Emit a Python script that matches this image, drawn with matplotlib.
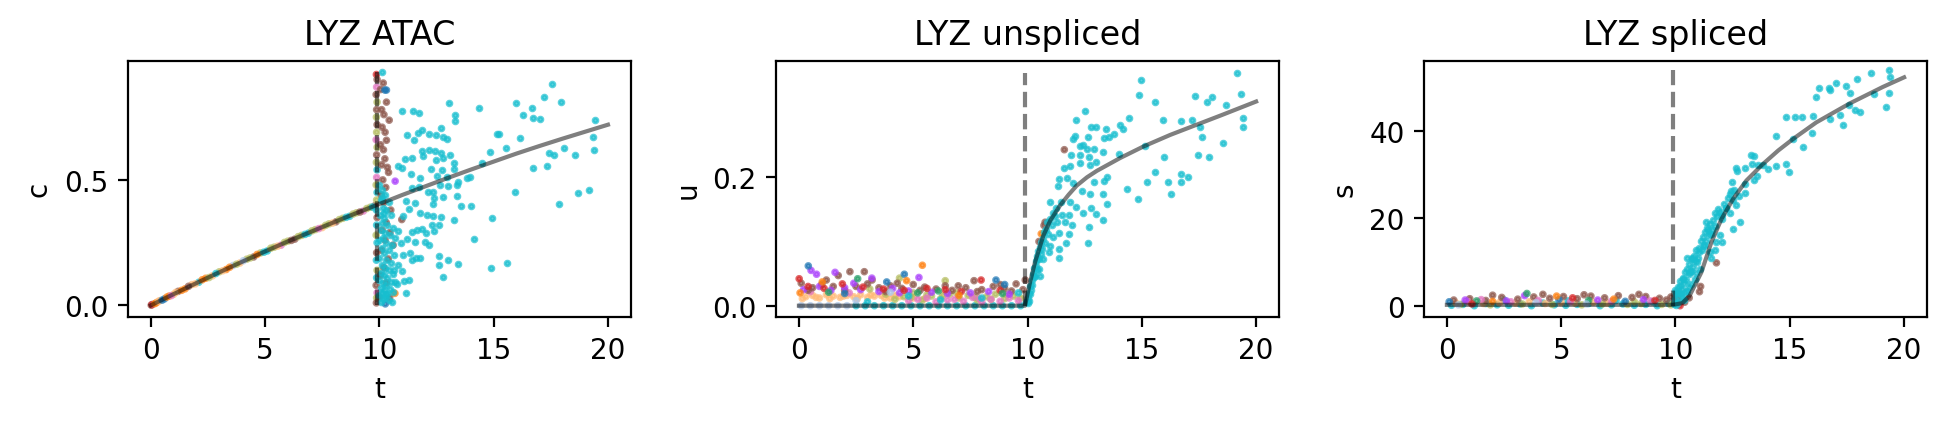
import matplotlib
matplotlib.use('Agg')
import matplotlib.pyplot as plt

# cell type colours (scanpy default_20 palette)
palette = {'cy': '#17becf', 'br': '#8c564b', 'bl': '#1f77b4', 'or': '#ff7f0e',
           'gr': '#279e68', 'rd': '#d62728', 'pu': '#aa40fc', 'pk': '#e377c2',
           'ol': '#b5bd61', 'lo': '#ffbb78', 'lb': '#aec7e8'}
t_switch = 9.88

# ---------------- ATAC (c) ----------------
atac_fit_t = [0, 1, 2, 3, 4, 5, 6, 7, 8, 9, 10, 11, 12, 13, 14, 15, 16, 17, 18, 19, 20]
atac_fit_c = [0, .045, .089, .132, .174, .215, .255, .293, .331, .368, .404, .440,
              .474, .508, .541, .573, .605, .635, .664, .692, .720]

atac_band = [(0.02, .001, 'br'), (0.1, .005, 'lb'), (0.25, .011, 'or'), (0.4, .019, 'lo'),
             (0.6, .026, 'bl'), (0.8, .037, 'or'), (1.0, .044, 'lo'), (1.2, .056, 'br'),
             (1.5, .066, 'or'), (1.8, .083, 'lo'), (2.1, .092, 'cy'), (2.4, .108, 'or'),
             (2.7, .118, 'lo'), (3.0, .134, 'ol'), (3.3, .143, 'or'), (3.6, .159, 'lb'),
             (3.9, .169, 'lo'), (4.2, .184, 'ol'), (4.5, .193, 'br'), (4.8, .209, 'ol'),
             (5.1, .217, 'cy'), (5.4, .232, 'ol'), (5.7, .240, 'pk'), (6.0, .256, 'ol'),
             (6.3, .264, 'br'), (6.6, .279, 'ol'), (6.9, .288, 'cy'), (7.2, .302, 'ol'),
             (7.5, .310, 'lo'), (7.8, .325, 'ol'), (8.1, .333, 'br'), (8.4, .347, 'ol'),
             (8.7, .355, 'cy'), (9.0, .369, 'ol'), (9.3, .376, 'pk'), (9.6, .391, 'ol'),
             (9.8, .397, 'br'),
             (0.05, .003, 'rd'), (0.18, .007, 'or'), (0.33, .016, 'lo'), (0.5, .021, 'bl'),
             (0.7, .033, 'or'), (0.9, .039, 'pk'), (1.1, .052, 'lo'), (1.35, .060, 'or'),
             (1.65, .076, 'br'), (1.95, .086, 'lo'), (2.25, .102, 'or'), (2.55, .111, 'ol'),
             (2.85, .127, 'cy'), (3.15, .138, 'lo'), (3.45, .152, 'or'), (3.75, .164, 'ol'),
             (4.05, .178, 'lb'), (4.35, .189, 'ol'), (4.65, .203, 'or'), (4.95, .212, 'cy'),
             (5.25, .228, 'ol'), (5.55, .236, 'lo'), (5.85, .251, 'ol'), (6.15, .259, 'br'),
             (6.45, .274, 'ol'), (6.75, .283, 'cy'), (7.05, .297, 'ol'), (7.35, .306, 'pk'),
             (7.65, .319, 'ol'), (7.95, .328, 'lo'), (8.25, .342, 'ol'), (8.55, .351, 'cy'),
             (8.85, .364, 'ol'), (9.15, .372, 'br'), (9.45, .386, 'ol'), (9.7, .392, 'cy')]

atac_switch = [(9.87, .92, 'rd'), (9.9, .90, 'br'), (9.88, .87, 'pk'), (9.86, .84, 'br'),
               (9.9, .81, 'ol'), (9.88, .78, 'br'), (9.87, .75, 'ol'), (9.9, .72, 'br'),
               (9.88, .69, 'ol'), (9.86, .66, 'pk'), (9.9, .63, 'ol'), (9.88, .60, 'br'),
               (9.87, .57, 'ol'), (9.9, .54, 'cy'), (9.88, .51, 'pk'), (9.86, .48, 'ol'),
               (9.9, .45, 'cy'), (9.88, .42, 'ol'), (9.87, .38, 'cy'), (9.9, .35, 'br'),
               (9.88, .32, 'cy'), (9.86, .28, 'ol'), (9.9, .25, 'cy'), (9.88, .21, 'br'),
               (9.87, .18, 'cy'), (9.9, .14, 'ol'), (9.88, .11, 'cy'), (9.86, .08, 'br'),
               (9.9, .05, 'pk'), (9.88, .03, 'ol'), (9.87, .01, 'br'),
               (10.17, .886, 'br'), (10.05, .86, 'br'), (10.31, .81, 'br'), (10.1, .78, 'br'),
               (10.2, .76, 'br'), (10.43, .738, 'br'), (10.12, .71, 'br'), (10.25, .69, 'br'),
               (10.31, .658, 'br'), (10.05, .64, 'br'), (10.18, .62, 'br'), (10.24, .584, 'br'),
               (10.1, .56, 'br'), (10.35, .55, 'br'), (10.4, .53, 'br'), (10.15, .50, 'br'),
               (10.28, .47, 'br'), (10.08, .44, 'br'), (10.2, .41, 'br'), (10.5, .38, 'br'),
               (10.98, .342, 'br'), (10.3, .33, 'br'), (10.12, .30, 'br'), (10.46, .29, 'br'),
               (10.25, .26, 'br'), (10.6, .24, 'br'), (10.1, .22, 'br'), (10.39, .185, 'br'),
               (10.2, .15, 'br'), (10.05, .12, 'br'), (10.3, .09, 'br'), (9.99, .033, 'br'),
               (10.45, .03, 'br'), (10.24, .858, 'bl'), (10.31, .858, 'bl'), (10.26, .006, 'bl'),
               (10.69, .495, 'pu'), (10.68, .048, 'or')]

atac_cyan = [(10.0, .48), (10.1, .46), (10.25, .44), (10.05, .42), (10.4, .41), (10.15, .39),
             (10.3, .38), (10.02, .36), (10.5, .36), (10.2, .35), (10.1, .33), (10.35, .32),
             (10.6, .31), (10.05, .30), (10.25, .29), (10.45, .28), (10.15, .27), (10.7, .27),
             (10.0, .26), (10.3, .25), (10.55, .24), (10.1, .23), (10.4, .22), (10.2, .21),
             (10.65, .20), (10.0, .19), (10.3, .18), (10.5, .17), (10.12, .16), (10.8, .16),
             (10.25, .15), (10.4, .14), (10.05, .13), (10.6, .125), (10.2, .12), (10.35, .11),
             (10.0, .10), (10.5, .095), (10.15, .09), (10.75, .085), (10.3, .08), (10.05, .07),
             (10.45, .065), (10.2, .06), (10.6, .055), (10.1, .05), (10.35, .045), (10.0, .04),
             (10.25, .035), (10.15, .025), (10.4, .02), (10.55, .015), (10.05, .015),
             (10.1, .43), (10.2, .37),
             (10.12, .929), (17.56, .881), (17.21, .829), (17.96, .809), (15.99, .805),
             (13.04, .805), (16.69, .785), (14.35, .785), (11.0, .773), (11.48, .773),
             (11.74, .767), (13.32, .759), (16.29, .758), (16.72, .747), (17.04, .742),
             (13.32, .734), (19.45, .738), (12.7, .706), (11.87, .699), (11.68, .687),
             (11.2, .678), (12.18, .682), (12.46, .678), (12.78, .669), (12.98, .663),
             (15.14, .683), (15.23, .683), (16.16, .666), (11.53, .659), (19.34, .67),
             (15.56, .626), (14.84, .61), (18.09, .626), (17.42, .606), (17.65, .598),
             (18.56, .598), (19.4, .618), (11.85, .614), (12.15, .62), (12.43, .615),
             (12.68, .609), (13.07, .60), (12.79, .589), (12.47, .581), (11.12, .584),
             (11.42, .588), (11.93, .597), (13.26, .566), (14.47, .566), (16.72, .546),
             (17.33, .554), (10.81, .554), (10.97, .548), (12.24, .544), (12.75, .54),
             (13.27, .544), (11.38, .522), (11.76, .508), (12.5, .517), (12.98, .511),
             (13.45, .491), (13.82, .507), (13.98, .511), (13.41, .478), (13.01, .475),
             (12.65, .478), (12.11, .452), (12.34, .451), (11.44, .468), (11.73, .471),
             (15.94, .451), (18.7, .447), (19.17, .46), (17.87, .403), (12.4, .428),
             (12.77, .432), (13.41, .436), (13.58, .398), (14.03, .395), (11.55, .408),
             (11.16, .415), (12.33, .404), (11.28, .384), (11.77, .369), (12.08, .36),
             (12.36, .358), (12.71, .351), (14.94, .347), (13.28, .341), (11.03, .358),
             (12.3, .322), (12.6, .321), (11.64, .301), (11.87, .305), (12.06, .289),
             (11.44, .292), (12.41, .298), (10.81, .298), (11.22, .265), (12.0, .254),
             (11.57, .252), (14.15, .265), (12.19, .242), (10.93, .248), (11.33, .208),
             (11.02, .199), (11.61, .188), (11.77, .188), (11.44, .179), (12.62, .195),
             (13.01, .18), (13.45, .165), (14.89, .149), (15.58, .169), (12.62, .159),
             (12.78, .112), (10.62, .14), (10.98, .136), (11.3, .103), (11.07, .098),
             (10.69, .095), (11.16, .048), (10.31, .047)]

# ---------------- unspliced (u) ----------------
unsp_fit_t = [0, 9.89, 10.1, 10.33, 10.69, 11.0, 11.42, 11.8, 12.15, 12.6, 13.03, 14.05,
              15.07, 16.24, 17.26, 18.5, 20.0]
unsp_fit_u = [0, 0, .035, .068, .109, .133, .156, .173, .187, .20, .21, .23, .248, .266,
              .28, .297, .318]

unsp_band = [(0.1, 0, 'lb'), (0.5, 0, 'lb'), (0.9, 0, 'lb'), (1.3, 0, 'lb'), (1.7, 0, 'lb'),
             (2.1, 0, 'lb'), (2.5, 0, 'cy'), (2.9, 0, 'cy'), (3.3, 0, 'cy'), (3.7, 0, 'cy'),
             (4.1, 0, 'cy'), (4.5, 0, 'cy'), (4.9, 0, 'cy'), (5.3, 0, 'cy'), (5.7, 0, 'cy'),
             (6.1, 0, 'cy'), (6.5, 0, 'cy'), (6.9, 0, 'cy'), (7.3, 0, 'cy'), (7.7, 0, 'cy'),
             (8.1, 0, 'cy'), (8.5, 0, 'cy'), (8.9, 0, 'cy'), (9.3, 0, 'cy'), (9.7, 0, 'cy'),
             (0.3, .014, 'lo'), (0.6, .016, 'lo'), (0.9, .012, 'lo'), (1.2, .017, 'lo'),
             (1.5, .015, 'lo'), (1.8, .013, 'lo'), (2.1, .016, 'lo'), (2.4, .014, 'lo'),
             (2.7, .017, 'lo'), (3.0, .013, 'lo'), (3.3, .015, 'lo'), (3.6, .016, 'lo'),
             (4.0, .012, 'lo'), (4.4, .014, 'lo'), (5.0, .012, 'lo'), (5.5, .011, 'lo'),
             (0.15, .011, 'lo'), (0.75, .013, 'lo'), (1.35, .011, 'lo'), (1.95, .015, 'lo'),
             (2.55, .011, 'lo'), (3.15, .017, 'lo'), (3.75, .012, 'lo'), (4.2, .016, 'lo'),
             (3.8, .018, 'ol'), (4.2, .010, 'ol'), (4.6, .014, 'ol'), (5.0, .020, 'ol'),
             (5.4, .009, 'ol'), (5.8, .015, 'ol'), (6.2, .011, 'ol'), (6.4, .039, 'ol'),
             (6.6, .018, 'ol'), (7.0, .012, 'ol'), (7.4, .016, 'ol'), (7.8, .009, 'ol'),
             (8.2, .014, 'ol'), (8.6, .018, 'ol'), (9.0, .011, 'ol'), (9.4, .015, 'ol'),
             (4.4, .043, 'ol'), (3.1, .026, 'ol'), (4.9, .013, 'ol'), (5.6, .017, 'ol'),
             (6.3, .016, 'ol'), (6.9, .020, 'ol'), (7.7, .013, 'ol'), (8.4, .010, 'ol'),
             (9.1, .017, 'ol'), (9.7, .012, 'ol'),
             (4.8, .008, 'pk'), (5.6, .012, 'pk'), (6.0, .006, 'pk'), (6.8, .010, 'pk'),
             (7.2, .007, 'pk'), (7.6, .013, 'pk'), (8.0, .006, 'pk'), (8.4, .010, 'pk'),
             (8.8, .007, 'pk'), (9.2, .012, 'pk'), (9.6, .008, 'pk'), (0.5, .022, 'pk'),
             (2.2, .020, 'pk'), (5.2, .010, 'pk'), (6.5, .009, 'pk'), (7.9, .011, 'pk'),
             (0.1, .035, 'br'), (0.6, .028, 'br'), (1.0, .033, 'br'), (1.5, .030, 'br'),
             (1.72, .047, 'br'), (2.23, .053, 'br'), (2.5, .030, 'br'), (2.86, .053, 'br'),
             (3.0, .034, 'br'), (3.5, .028, 'br'), (4.0, .031, 'br'), (4.5, .027, 'br'),
             (5.0, .033, 'br'), (5.5, .029, 'br'), (6.0, .026, 'br'), (6.97, .031, 'br'),
             (7.3, .028, 'br'), (7.66, .039, 'br'), (8.0, .025, 'br'), (8.5, .030, 'br'),
             (9.0, .027, 'br'), (9.5, .034, 'br'), (9.8, .025, 'br'), (9.9, .040, 'br'),
             (3.2, .040, 'br'), (1.2, .040, 'br'), (0.4, .024, 'br'), (2.0, .024, 'br'),
             (3.8, .022, 'br'), (5.3, .024, 'br'), (6.4, .031, 'br'), (7.8, .022, 'br'),
             (8.8, .033, 'br'), (9.3, .023, 'br'), (6.7, .024, 'br'), (4.3, .035, 'br'),
             (0.53, .055, 'pu'), (0.77, .049, 'pu'), (1.58, .052, 'pu'), (3.19, .043, 'pu'),
             (5.25, .044, 'pu'), (0.2, .025, 'pu'), (0.9, .030, 'pu'), (1.4, .024, 'pu'),
             (2.0, .028, 'pu'), (2.7, .025, 'pu'), (3.5, .022, 'pu'), (4.1, .027, 'pu'),
             (4.8, .023, 'pu'), (5.8, .021, 'pu'), (6.5, .019, 'pu'), (7.5, .020, 'pu'),
             (8.3, .022, 'pu'), (9.2, .018, 'pu'), (2.4, .035, 'pu'), (4.4, .020, 'pu'),
             (0.01, .042, 'rd'), (0.4, .030, 'rd'), (1.1, .027, 'rd'), (1.9, .034, 'rd'),
             (2.8, .029, 'rd'), (3.7, .026, 'rd'), (4.6, .024, 'rd'), (5.6, .027, 'rd'),
             (6.4, .025, 'rd'), (7.97, .040, 'rd'), (8.8, .024, 'rd'), (7.1, .022, 'rd'),
             (2.57, .042, 'gr'), (1.3, .021, 'gr'), (5.2, .020, 'gr'), (8.9, .019, 'gr'),
             (6.1, .023, 'gr'),
             (0.41, .062, 'bl'), (4.61, .049, 'bl'), (3.84, .037, 'bl'), (8.62, .040, 'bl'),
             (9.0, .033, 'bl'), (2.0, .019, 'bl'),
             (5.4, .063, 'or'), (1.02, .037, 'or'), (4.71, .039, 'or'), (0.05, .020, 'or'),
             (7.0, .016, 'or'), (4.0, .021, 'lb'), (2.5, .008, 'lb'),
             (3.0, .006, 'cy'), (4.8, .015, 'cy'), (6.2, .009, 'cy'), (8.0, .012, 'cy'),
             (9.6, .020, 'cy'),
             (10.77, .13, 'br'), (10.72, .125, 'br'), (10.6, .112, 'or'), (10.5, .10, 'br'),
             (11.61, .243, 'br')]

unsp_cyan = [(9.95, .005), (10.0, .012), (10.05, .02), (10.1, .018), (10.12, .03), (10.18, .04),
             (10.2, .032), (10.25, .05), (10.28, .058), (10.3, .045), (10.35, .07), (10.38, .062),
             (10.42, .078), (10.45, .085), (10.5, .072), (10.55, .092), (10.58, .10), (10.62, .088),
             (10.68, .105), (10.72, .115), (10.78, .098), (10.8, .12), (10.85, .13), (10.9, .112),
             (11.0, .135), (11.05, .125), (11.1, .145), (11.2, .14), (11.25, .152), (11.3, .13),
             (10.4, .055), (10.6, .08), (10.15, .025), (10.02, .004), (10.08, .008),
             (19.18, .363), (14.97, .352), (14.88, .328), (19.36, .330), (17.33, .327),
             (18.07, .325), (17.87, .318), (15.59, .317), (18.7, .312), (12.52, .303),
             (14.44, .292), (19.43, .292), (19.43, .279), (12.14, .289), (15.94, .289),
             (16.73, .287), (17.21, .289), (14.06, .281), (14.17, .276), (12.78, .279),
             (13.01, .278), (13.45, .276), (13.8, .268), (17.56, .278), (17.65, .262),
             (12.08, .264), (12.01, .26), (12.66, .262), (13.36, .261), (13.57, .262),
             (12.3, .248), (12.43, .251), (12.6, .244), (12.91, .244), (13.29, .239),
             (13.98, .237), (15.13, .249), (18.56, .253), (17.46, .234), (17.96, .231),
             (15.99, .231), (11.9, .234), (12.3, .234), (12.71, .231), (13.0, .224),
             (12.72, .219), (12.3, .222), (11.85, .217), (11.58, .215), (15.56, .209),
             (16.73, .205), (17.04, .201), (13.46, .20), (13.36, .195), (12.91, .193),
             (11.39, .198), (11.73, .199), (11.32, .186), (12.0, .191), (15.23, .192),
             (16.15, .192), (16.7, .192), (14.37, .182), (16.29, .174), (14.85, .166),
             (12.37, .178), (12.74, .174), (13.3, .174), (13.46, .158), (10.98, .162),
             (11.47, .161), (11.86, .161), (12.14, .153), (12.43, .145), (12.78, .152),
             (13.0, .143), (13.29, .133), (11.51, .142), (11.83, .141), (11.64, .13),
             (11.93, .126), (12.71, .122), (11.36, .114), (11.82, .112), (11.68, .098),
             (12.66, .098), (11.13, .107), (10.98, .093), (11.39, .089), (11.39, .075),
             (10.93, .083), (10.69, .073), (10.55, .046), (10.52, .057), (10.4, .073),
             (10.33, .047)]

# ---------------- spliced (s) ----------------
spl_fit_t = [0, 2, 4, 6, 8, 9.9, 10.3, 10.62, 11.13, 11.57, 12.01, 12.52, 13.1, 13.83,
             14.5, 15.14, 16.16, 17.61, 19.07, 20.0]
spl_fit_s = [0.2, 0.2, 0.2, 0.2, 0.2, 0.2, 0.6, 2.3, 7.6, 14.5, 19.8, 24.4, 28.6, 32.4,
             35.5, 38.1, 41.9, 46.2, 50.0, 52.2]

spl_band = [(0.2, .1, 'cy'), (0.7, .3, 'cy'), (1.2, 0, 'cy'), (1.7, .5, 'cy'), (2.2, .2, 'cy'),
            (2.7, .1, 'cy'), (3.2, .4, 'cy'), (3.7, 0, 'cy'), (4.2, .6, 'cy'), (4.7, .2, 'cy'),
            (5.2, .1, 'cy'), (5.7, .3, 'cy'), (6.2, .5, 'cy'), (6.7, 0, 'cy'), (7.2, .2, 'cy'),
            (7.7, .4, 'cy'), (8.2, .1, 'cy'), (8.7, .3, 'cy'), (9.2, 0, 'cy'), (9.7, .5, 'cy'),
            (2.5, 1.3, 'cy'), (5.3, 1.1, 'cy'), (7.4, 1.2, 'cy'), (9.0, .9, 'cy'),
            (0.4, .6, 'lo'), (1.0, .8, 'lo'), (1.6, .5, 'lo'), (2.3, .7, 'lo'), (3.0, .6, 'lo'),
            (3.6, .9, 'lo'), (4.3, .5, 'lo'), (5.0, .7, 'lo'), (5.6, .6, 'lo'), (6.4, .8, 'lo'),
            (7.0, .6, 'lo'),
            (0.6, .3, 'ol'), (1.9, .2, 'ol'), (3.3, .4, 'ol'), (4.6, .3, 'ol'), (5.9, .2, 'ol'),
            (6.8, .4, 'ol'), (7.9, .3, 'ol'), (8.5, .5, 'ol'), (9.4, .3, 'ol'), (9.8, .2, 'ol'),
            (8.2, .9, 'ol'),
            (0.3, 1.3, 'br'), (1.0, 1.6, 'br'), (1.7, 1.2, 'br'), (2.4, 1.9, 'br'), (3.1, 1.5, 'br'),
            (3.8, 2.0, 'br'), (4.5, 1.7, 'br'), (5.1, 2.1, 'br'), (5.7, 1.6, 'br'), (6.3, 2.2, 'br'),
            (6.9, 1.8, 'br'), (7.5, 2.3, 'br'), (8.1, 1.9, 'br'), (8.7, 2.1, 'br'), (9.3, 1.7, 'br'),
            (9.8, 2.0, 'br'), (2.0, 2.4, 'br'), (4.2, 2.6, 'br'), (6.0, 2.5, 'br'), (8.4, 2.6, 'br'),
            (9.6, 1.3, 'br'), (10.1, 1.6, 'br'), (10.4, .8, 'br'), (10.6, 1.8, 'br'),
            (11.05, 3.2, 'br'), (11.1, 4.4, 'br'), (11.79, 9.8, 'br'),
            (0.9, 1.0, 'pk'), (2.8, .9, 'pk'), (4.0, 1.2, 'pk'), (5.4, .9, 'pk'), (7.2, 1.0, 'pk'),
            (8.9, 1.1, 'pk'), (1.5, 1.4, 'pk'),
            (0.8, 1.3, 'pu'), (2.6, 1.1, 'pu'), (3.4, 2.3, 'pu'), (6.6, 1.3, 'pu'), (8.6, 1.4, 'pu'),
            (3.5, 2.8, 'gr'), (6.2, 1.2, 'gr'), (1.3, 1.1, 'gr'),
            (0.1, .9, 'bl'), (4.9, 1.4, 'bl'), (7.8, 1.0, 'bl'),
            (1.1, .4, 'rd'), (5.5, 1.8, 'rd'), (9.1, 1.2, 'rd'), (10.2, 0, 'rd'),
            (2.0, 1.0, 'or'), (4.8, 2.2, 'or'), (7.3, 1.5, 'or'),
            (0.5, .2, 'lb'), (3.9, .7, 'lb'), (6.1, .4, 'lb')]

spl_cyan = [(9.95, .4), (10.0, 1.6), (10.04, 2.7), (9.98, 3.6), (10.1, 4.3), (10.16, 2.9),
            (10.19, 5.7), (10.27, 3.8), (10.31, 6.4), (10.36, 5.1), (10.42, 7.7), (10.46, 5.8),
            (10.52, 8.3), (10.57, 7.2), (10.61, 9.6), (10.66, 7.9), (10.71, 10.7), (10.77, 8.8),
            (10.82, 11.4), (10.86, 10.2), (10.91, 12.8), (10.97, 10.9), (11.02, 13.3),
            (11.04, 12.2), (11.11, 14.7), (11.16, 12.8), (11.19, 15.6), (11.26, 13.9),
            (11.31, 16.8), (11.34, 14.8), (11.41, 17.3), (11.47, 16.2), (11.52, 18.7),
            (11.58, 17.4), (11.66, 19.6), (11.71, 18.2), (11.83, 20.4), (11.88, 22.1),
            (12.02, 20.8), (12.12, 23.3), (12.19, 22.4), (12.31, 24.7), (12.38, 25.6),
            (10.28, 1.9), (10.49, 3.4), (10.68, 4.9), (10.88, 7.4), (10.12, .9), (10.38, 1.3),
            (10.22, 2.6), (10.58, 4.2), (10.02, .2),
            (19.36, 53.8), (18.54, 53.2), (19.4, 52.3), (17.95, 51.8), (17.03, 50.9),
            (17.47, 50.2), (16.71, 49.8), (16.26, 49.8), (16.76, 49.2), (16.13, 47.6),
            (17.64, 48.6), (18.69, 48.5), (19.33, 48.6), (17.57, 45.8), (19.2, 45.4),
            (17.85, 44.8), (18.06, 44.2), (17.19, 43.5), (14.85, 43.1), (15.21, 43.1),
            (15.53, 43.2), (16.03, 43.3), (16.77, 42.6), (17.32, 41.4), (15.97, 39.4),
            (14.4, 38.7), (15.14, 38.0), (15.56, 36.3), (14.85, 32.5), (14.95, 30.6),
            (14.41, 31.9), (14.05, 31.2), (13.83, 32.2), (13.32, 34.5), (13.42, 34.2),
            (13.36, 32.5), (13.06, 31.5), (13.61, 32.2), (13.58, 29.6), (13.42, 28.8),
            (13.03, 27.8), (12.66, 31.5), (12.71, 30.8), (12.49, 28.3), (12.56, 26.4),
            (12.42, 26.2), (13.03, 25.8), (12.78, 25.0), (12.52, 24.2), (12.63, 23.1),
            (12.23, 22.3), (11.94, 21.5), (11.72, 21.2), (12.37, 21.2), (12.52, 17.5),
            (12.81, 19.2), (12.05, 19.8), (11.35, 19.2), (11.38, 17.7), (11.57, 16.5),
            (11.94, 16.2), (11.76, 14.6), (12.02, 14.6), (11.24, 13.7), (11.5, 12.3),
            (11.57, 10.8), (10.74, 10.8), (10.51, 10.8), (10.92, 10.0), (11.06, 8.5),
            (11.72, 12.7), (10.63, 7.7), (10.84, 6.2), (10.33, 6.2), (10.19, 4.6),
            (10.41, 3.1), (10.04, 3.1)]

POINT_SIZE = 3


def draw_panel(ax, groups, cyan, fit_t, fit_y, title, ylabel, ylim, yticks):
    # coloured cells first, then the cyan lineage on top
    for pts in groups:
        ax.scatter([p[0] for p in pts], [p[1] for p in pts], s=POINT_SIZE, alpha=0.7,
                   c=[palette[p[2]] for p in pts], zorder=1)
    ax.scatter([p[0] for p in cyan], [p[1] for p in cyan], s=POINT_SIZE, alpha=0.7,
               c=palette['cy'], zorder=1)
    ymax = max([p[1] for pts in groups for p in pts] + [p[1] for p in cyan])
    ax.plot(fit_t, fit_y, color='black', lw=1.5, alpha=0.5, zorder=2)
    ax.plot([t_switch, t_switch], [0, ymax], color='black', lw=1.5, ls='--',
            alpha=0.5, zorder=2)
    ax.set_xlim(-1, 21)
    ax.set_ylim(*ylim)
    ax.set_xticks([0, 5, 10, 15, 20])
    ax.set_yticks(yticks)
    ax.set_title(title, fontsize=12)
    ax.set_xlabel('t')
    ax.set_ylabel(ylabel)


fig = plt.figure(figsize=(9.735, 2.135), dpi=200)
ax1 = fig.add_axes([0.0657, 0.256, 0.2583, 0.5995])
ax2 = fig.add_axes([0.3986, 0.256, 0.2583, 0.5995])
ax3 = fig.add_axes([0.7314, 0.256, 0.2583, 0.5995])

draw_panel(ax1, [atac_band, atac_switch], atac_cyan, atac_fit_t, atac_fit_c,
           'LYZ ATAC', 'c', (-0.045, 0.975), [0.0, 0.5])
draw_panel(ax2, [unsp_band], unsp_cyan, unsp_fit_t, unsp_fit_u,
           'LYZ unspliced', 'u', (-0.0171, 0.3816), [0.0, 0.2])
draw_panel(ax3, [spl_band], spl_cyan, spl_fit_t, spl_fit_s,
           'LYZ spliced', 's', (-2.51, 56.0), [0, 20, 40])

plt.savefig('out.png', dpi=200)
